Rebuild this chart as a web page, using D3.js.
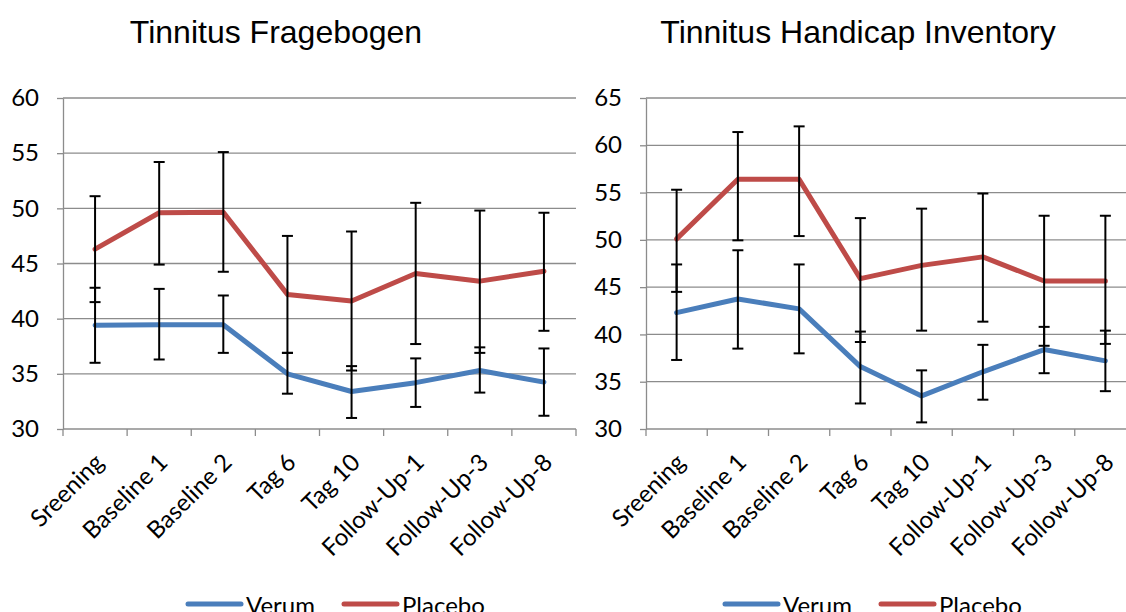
<!DOCTYPE html>
<html>
<head>
<meta charset="utf-8">
<script src="https://cdn.jsdelivr.net/npm/d3@7"></script>
<style>
  body { margin: 0; background: #fff; }
  svg { display: block; }
  .title { font-family: "Liberation Sans", Arial, sans-serif; font-size: 32px; fill: #000; }
  .lbl { font-family: Lato, "Open Sans", sans-serif; font-size: 24px; fill: #000; }
  .leg { font-family: Lato, "Open Sans", sans-serif; font-size: 24px; fill: #000; }
</style>
</head>
<body>
<svg width="1126" height="612"></svg>
<script>
var categories = ["Sreening", "Baseline 1", "Baseline 2", "Tag 6", "Tag 10", "Follow-Up-1", "Follow-Up-3", "Follow-Up-8"];

// Tinnitus Fragebogen
var verumTF = [39.4, 39.45, 39.45, 35.0, 33.4, 34.2, 35.3, 34.25],
  verumTFLow = [36.0, 36.3, 36.9, 33.2, 31.0, 32.0, 33.3, 31.2],
  verumTFHigh = [42.8, 42.7, 42.1, 36.9, 35.7, 36.4, 37.4, 37.3],
  placeboTF = [46.3, 49.6, 49.65, 42.2, 41.6, 44.1, 43.4, 44.3],
  placeboTFLow = [41.5, 44.9, 44.25, 36.9, 35.3, 37.7, 36.9, 38.9],
  placeboTFHigh = [51.1, 54.2, 55.1, 47.5, 47.9, 50.5, 49.8, 49.6],
  ticksTF = [30, 35, 40, 45, 50, 55, 60];

// Tinnitus Handicap Inventory
var verumTHI = [42.3, 43.75, 42.7, 36.6, 33.5, 36.05, 38.4, 37.2],
  verumTHILow = [37.3, 38.5, 38.0, 32.7, 30.7, 33.1, 35.9, 34.0],
  verumTHIHigh = [47.4, 48.9, 47.4, 40.3, 36.2, 38.9, 40.8, 40.4],
  placeboTHI = [50.1, 56.4, 56.4, 45.9, 47.3, 48.2, 45.65, 45.65],
  placeboTHILow = [44.5, 49.95, 50.4, 39.2, 40.4, 41.35, 38.8, 39.0],
  placeboTHIHigh = [55.3, 61.4, 62.0, 52.3, 53.3, 54.9, 52.55, 52.55],
  ticksTHI = [30, 35, 40, 45, 50, 55, 60, 65];

var seriesNames = ["Verum", "Placebo"],
  colors = ["#4a7ebb", "#be4b48"],
  gridColor = "#8c8c8c";

var svg = d3.select("svg");

function drawPanel(p) {
  var g = svg.append("g");

  var x = d3.scaleBand()
    .domain(categories)
    .range([p.left, p.right]);

  var y = d3.scaleLinear()
    .domain(d3.extent(p.ticks))
    .range([429, 98]);

  function cx(c) { return x(c) + x.bandwidth() / 2; }

  // horizontal gridlines
  g.append("g").selectAll("line")
    .data(p.ticks)
    .enter().append("line")
      .attr("x1", p.left)
      .attr("x2", p.right)
      .attr("y1", function(d) { return y(d); })
      .attr("y2", function(d) { return y(d); })
      .attr("stroke", gridColor)
      .attr("stroke-width", 1.3);

  // y axis
  var yAxis = g.append("g")
    .attr("transform", "translate(" + p.left + ",0)")
    .call(d3.axisLeft(y).tickValues(p.ticks).tickSize(6).tickSizeOuter(0).tickPadding(18));
  yAxis.select(".domain").attr("stroke", gridColor).attr("stroke-width", 1.3);
  yAxis.selectAll(".tick line").attr("stroke", gridColor).attr("stroke-width", 1.3);
  yAxis.selectAll(".tick text").attr("class", "lbl").attr("font-family", null).attr("font-size", null);

  // x axis ticks at category boundaries
  var bounds = categories.map(function(c) { return x(c); }).concat([p.right]);
  g.append("g").selectAll("line")
    .data(bounds)
    .enter().append("line")
      .attr("x1", function(d) { return d; })
      .attr("x2", function(d) { return d; })
      .attr("y1", 429)
      .attr("y2", 436)
      .attr("stroke", gridColor)
      .attr("stroke-width", 1.3);

  g.append("g").selectAll("text")
    .data(categories)
    .enter().append("text")
      .attr("class", "lbl")
      .attr("text-anchor", "end")
      .attr("dy", "0.35em")
      .attr("transform", function(d) { return "translate(" + (cx(d) + 4) + ",458) rotate(-45)"; })
      .text(function(d) { return d; });

  var line = d3.line()
    .x(function(d) { return cx(d.cat); })
    .y(function(d) { return y(d.v); });

  p.series.forEach(function(s, i) {
    var pts = categories.map(function(c, k) {
      return {cat: c, v: s.values[k], lo: s.low[k], hi: s.high[k]};
    });

    g.append("path")
      .datum(pts)
      .attr("d", line)
      .attr("fill", "none")
      .attr("stroke", colors[i])
      .attr("stroke-width", 5)
      .attr("stroke-linejoin", "round")
      .attr("stroke-linecap", "round");

    // error bars
    var eb = g.append("g").selectAll("g")
      .data(pts)
      .enter().append("g")
        .attr("stroke", "#000")
        .attr("stroke-width", 2);
    eb.append("line")
      .attr("x1", function(d) { return cx(d.cat); })
      .attr("x2", function(d) { return cx(d.cat); })
      .attr("y1", function(d) { return y(d.lo); })
      .attr("y2", function(d) { return y(d.hi); });
    eb.selectAll(".cap")
      .data(function(d) { return [[d.cat, d.lo], [d.cat, d.hi]]; })
      .enter().append("line")
        .attr("class", "cap")
        .attr("x1", function(d) { return cx(d[0]) - 5.5; })
        .attr("x2", function(d) { return cx(d[0]) + 5.5; })
        .attr("y1", function(d) { return y(d[1]); })
        .attr("y2", function(d) { return y(d[1]); });
  });

  g.append("text")
    .attr("class", "title")
    .attr("x", p.titleX)
    .attr("y", 43)
    .attr("text-anchor", "middle")
    .text(p.title);

  // legend
  var leg = g.append("g");
  seriesNames.forEach(function(n, i) {
    var lx = p.legendX[i];
    leg.append("line")
      .attr("x1", lx)
      .attr("x2", lx + 53)
      .attr("y1", 604)
      .attr("y2", 604)
      .attr("stroke", colors[i])
      .attr("stroke-width", 5)
      .attr("stroke-linecap", "round");
    leg.append("text")
      .attr("class", "leg")
      .attr("x", lx + 58)
      .attr("y", 614)
      .text(n);
  });
}

drawPanel({
  left: 63, right: 576,
  ticks: ticksTF,
  title: "Tinnitus Fragebogen", titleX: 276,
  legendX: [188, 344],
  series: [
    {values: verumTF, low: verumTFLow, high: verumTFHigh},
    {values: placeboTF, low: placeboTFLow, high: placeboTFHigh}
  ]
});

drawPanel({
  left: 646, right: 1136,
  ticks: ticksTHI,
  title: "Tinnitus Handicap Inventory", titleX: 858,
  legendX: [725, 881],
  series: [
    {values: verumTHI, low: verumTHILow, high: verumTHIHigh},
    {values: placeboTHI, low: placeboTHILow, high: placeboTHIHigh}
  ]
});
</script>
</body>
</html>
